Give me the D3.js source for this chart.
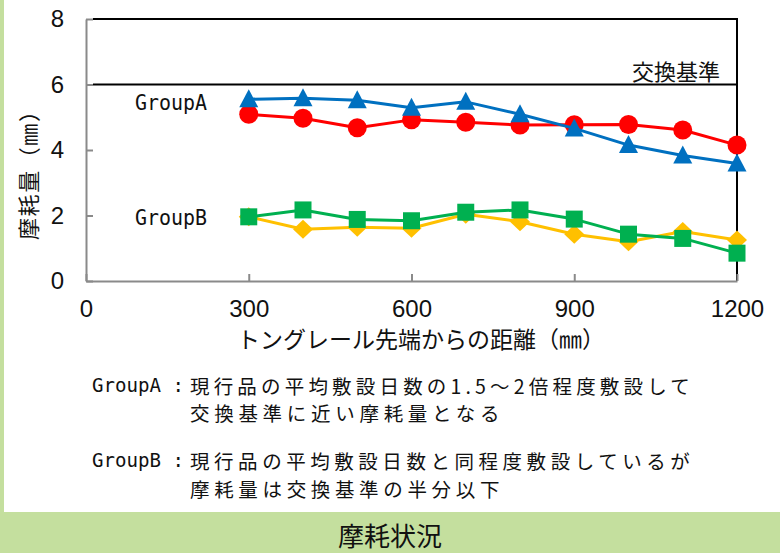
<!DOCTYPE html>
<html>
<head>
<meta charset="utf-8">
<script src="https://cdn.jsdelivr.net/npm/d3@7"></script>
<style>
  html, body { margin: 0; padding: 0; background: #fff; }
  svg { display: block; }
</style>
</head>
<body>
<svg id="chart" width="780" height="553"></svg>
<script>
// Distance from the tongue-rail tip (mm)
const distances = [300, 400, 500, 600, 700, 800, 900, 1000, 1100, 1200];

// Wear (mm) per rail
const groupA_red    = [5.09, 4.97, 4.68, 4.92, 4.85, 4.76, 4.77, 4.78, 4.61, 4.15];
const groupA_blue   = [5.55, 5.58, 5.52, 5.29, 5.47, 5.09, 4.66, 4.15, 3.83, 3.59];
const groupB_yellow = [1.96, 1.58, 1.64, 1.61, 2.04, 1.81, 1.43, 1.20, 1.51, 1.25];
const groupB_green  = [1.96, 2.17, 1.88, 1.84, 2.10, 2.17, 1.89, 1.43, 1.30, 0.85];

const xTicks = [0, 300, 600, 900, 1200];
const yTicks = [0, 2, 4, 6, 8];
const replacementLimit = 6;

const xTitle = "トングレール先端からの距離（㎜）";
const yTitle = "摩耗量（㎜）";
const limitLabel = "交換基準";
const groupLabels = ["GroupA", "GroupB"];
const noteLines = [
  ["GroupA：", "現行品の平均敷設日数の1.5～2倍程度敷設して"],
  ["", "交換基準に近い摩耗量となる"],
  ["GroupB：", "現行品の平均敷設日数と同程度敷設しているが"],
  ["", "摩耗量は交換基準の半分以下"]
];
const footerTitle = "摩耗状況";

const svg = d3.select("#chart");
const JP = "'Noto Sans CJK JP', 'Noto Sans', sans-serif";
const NUM = "'Liberation Sans Narrow', 'Liberation Sans', Arial, sans-serif";
const MONO = "'DejaVu Sans Mono', 'Liberation Mono', monospace";

// Frame: green strip on the left and green footer band
svg.append("rect").attr("x", 0).attr("y", 0).attr("width", 4).attr("height", 553).attr("fill", "#c4df9e");
svg.append("rect").attr("x", 0).attr("y", 512).attr("width", 780).attr("height", 41).attr("fill", "#c4df9e");

const x = d3.scaleLinear().domain([0, 1200]).range([86, 737]);
const y = d3.scaleLinear().domain([0, 8]).range([281, 19]);

const axisGrey = "#8a8a8a";

// Upper gridline and replacement-limit line, right border
svg.append("line")
  .attr("x1", x(0) + 7).attr("x2", x(1200))
  .attr("y1", y(8)).attr("y2", y(8))
  .attr("stroke", "#000").attr("stroke-width", 2);
svg.append("line")
  .attr("x1", x(0) + 7).attr("x2", x(1200))
  .attr("y1", y(replacementLimit)).attr("y2", y(replacementLimit))
  .attr("stroke", "#000").attr("stroke-width", 2);
svg.append("line")
  .attr("x1", x(1200)).attr("x2", x(1200))
  .attr("y1", y(8) - 1).attr("y2", y(0))
  .attr("stroke", "#000").attr("stroke-width", 2);

// Axes with inward ticks
const yAxis = svg.append("g")
  .attr("transform", `translate(${x(0)},0)`)
  .call(d3.axisLeft(y).tickValues(yTicks).tickFormat(d3.format("d"))
    .tickSizeInner(-7).tickSizeOuter(0).tickPadding(22));
const xAxis = svg.append("g")
  .attr("transform", `translate(0,${y(0)})`)
  .call(d3.axisBottom(x).tickValues(xTicks).tickFormat(d3.format("d"))
    .tickSizeInner(-7).tickSizeOuter(0).tickPadding(19));

[yAxis, xAxis].forEach(g => {
  g.select(".domain").attr("stroke", axisGrey).attr("stroke-width", 2);
  g.selectAll(".tick line").attr("stroke", axisGrey).attr("stroke-width", 2);
  g.selectAll(".tick text")
    .attr("fill", "#111")
    .style("font-family", NUM)
    .style("font-size", "24px");
});

// Series lines and markers
const line = d3.line().x(d => x(d[0])).y(d => y(d[1]));
const series = [
  { values: groupA_red,    color: "#ff0000", shape: "circle" },
  { values: groupA_blue,   color: "#0070c0", shape: "triangle" },
  { values: groupB_yellow, color: "#ffc000", shape: "diamond" },
  { values: groupB_green,  color: "#00b050", shape: "square" }
];

function markerPath(shape, cx, cy) {
  const p = d3.path();
  if (shape === "circle") {
    p.arc(cx, cy, 9.5, 0, 2 * Math.PI);
  } else if (shape === "triangle") {
    p.moveTo(cx, cy - 10); p.lineTo(cx + 9.5, cy + 8); p.lineTo(cx - 9.5, cy + 8);
  } else if (shape === "diamond") {
    p.moveTo(cx, cy - 9.5); p.lineTo(cx + 10, cy); p.lineTo(cx, cy + 9.5); p.lineTo(cx - 10, cy);
  } else {
    p.rect(cx - 8.5, cy - 8.5, 17, 17);
  }
  p.closePath();
  return p.toString();
}

series.forEach(s => {
  const pts = distances.map((d, i) => [d, s.values[i]]);
  svg.append("path")
    .attr("d", line(pts))
    .attr("fill", "none")
    .attr("stroke", s.color)
    .attr("stroke-width", 3)
    .attr("stroke-linejoin", "round");
  svg.append("g").selectAll("path")
    .data(pts)
    .join("path")
    .attr("d", d => markerPath(s.shape, x(d[0]), y(d[1])))
    .attr("fill", s.color);
});

// In-plot labels
svg.append("text")
  .attr("x", 720).attr("y", 70).attr("text-anchor", "end").attr("dominant-baseline", "central")
  .style("font-family", JP).style("font-size", "22px").attr("fill", "#111")
  .text(limitLabel);

[[groupLabels[0], 103], [groupLabels[1], 218]].forEach(([t, yy]) => {
  svg.append("text")
    .attr("x", 135).attr("y", yy).attr("dominant-baseline", "central")
    .attr("textLength", 72).attr("lengthAdjust", "spacingAndGlyphs")
    .style("font-family", MONO).style("font-size", "21px").attr("fill", "#111")
    .text(t);
});

// Axis titles
svg.append("text")
  .attr("x", 421).attr("y", 338).attr("text-anchor", "middle").attr("dominant-baseline", "central")
  .attr("textLength", 368).attr("lengthAdjust", "spacing")
  .style("font-family", JP).style("font-size", "23px").attr("fill", "#111")
  .text(xTitle);
svg.append("text")
  .attr("transform", "translate(27,170) rotate(-90)")
  .attr("text-anchor", "middle").attr("dominant-baseline", "central")
  .attr("textLength", 140).attr("lengthAdjust", "spacing")
  .style("font-family", JP).style("font-size", "22px").attr("fill", "#111")
  .text(yTitle);

// Notes below the chart
const noteY = [385, 412, 460, 488];
noteLines.forEach(([label, body], i) => {
  if (label) {
    svg.append("text")
      .attr("x", 92).attr("y", noteY[i]).attr("dominant-baseline", "central")
      .attr("textLength", 92).attr("lengthAdjust", "spacingAndGlyphs")
      .style("font-family", MONO).style("font-size", "20px").attr("fill", "#111")
      .text(label.replace("：", " :"));
  }
  const chars = Array.from(body).reduce((n, c) => n + (/[0-9.]/.test(c) ? 0.5 : 1), 0);
  svg.append("text")
    .attr("x", 190).attr("y", noteY[i]).attr("dominant-baseline", "central")
    .attr("textLength", chars * 23.8).attr("lengthAdjust", "spacing")
    .style("font-family", JP).style("font-size", "19.5px").attr("fill", "#111")
    .text(body);
});

// Footer title
svg.append("text")
  .attr("x", 390).attr("y", 534).attr("text-anchor", "middle").attr("dominant-baseline", "central")
  .attr("textLength", 104).attr("lengthAdjust", "spacing")
  .style("font-family", JP).style("font-size", "26px").attr("fill", "#111")
  .text(footerTitle);
</script>
</body>
</html>
